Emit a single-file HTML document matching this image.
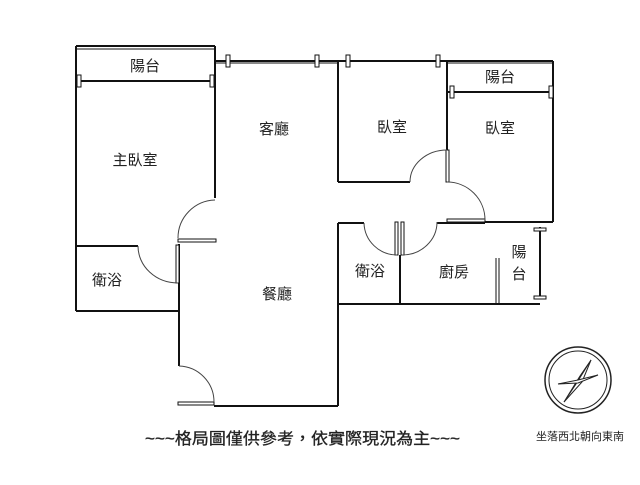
<!DOCTYPE html>
<html><head><meta charset="utf-8"><style>
html,body{margin:0;padding:0;background:#fff;}
svg text{font-family:"Liberation Sans","Noto Sans CJK TC",sans-serif;fill:#222;}
</style></head><body>
<svg width="640" height="480" viewBox="0 0 640 480" xmlns="http://www.w3.org/2000/svg">
<g stroke="#111" stroke-width="2" fill="none">
<line x1="76" y1="46" x2="215" y2="46"/>
<line x1="76" y1="49" x2="215" y2="49" stroke-width="1"/>
<line x1="76" y1="81" x2="215" y2="81"/>
<line x1="76" y1="46" x2="76" y2="311"/>
<line x1="215" y1="46" x2="215" y2="198"/>
<line x1="215" y1="61" x2="338" y2="61"/>
<line x1="215" y1="63" x2="338" y2="63" stroke-width="1"/>
<line x1="338" y1="61" x2="447" y2="61"/>
<line x1="338" y1="61" x2="338" y2="182"/>
<line x1="338" y1="182" x2="410" y2="182"/>
<line x1="447" y1="61" x2="553" y2="61"/>
<line x1="447" y1="63" x2="553" y2="63" stroke-width="1"/>
<line x1="447" y1="92" x2="553" y2="92"/>
<line x1="553" y1="61" x2="553" y2="222"/>
<line x1="447" y1="61" x2="447" y2="182"/>
<line x1="485" y1="222" x2="553" y2="222"/>
<line x1="338" y1="223" x2="364" y2="223"/>
<line x1="437" y1="223" x2="485" y2="223"/>
<line x1="338" y1="223" x2="338" y2="406"/>
<line x1="338" y1="304" x2="540" y2="304"/>
<line x1="400" y1="255" x2="400" y2="304"/>
<line x1="540" y1="227" x2="540" y2="298"/>
<line x1="496" y1="258" x2="496" y2="304" stroke-width="1"/>
<line x1="499" y1="258" x2="499" y2="304" stroke-width="1"/>
<line x1="76" y1="246" x2="138" y2="246"/>
<line x1="76" y1="311" x2="179" y2="311"/>
<line x1="179" y1="244" x2="179" y2="366"/>
<line x1="214" y1="406" x2="338" y2="406"/>
</g>
<g stroke="#111" stroke-width="1" fill="#fff">
<rect x="77" y="75" width="4" height="12"/><rect x="210" y="75" width="4" height="12"/>
<rect x="226" y="55" width="4" height="12"/><rect x="315" y="55" width="4" height="12"/>
<rect x="346" y="55" width="4" height="12"/><rect x="436" y="55" width="4" height="12"/>
<rect x="450" y="86" width="4" height="12"/><rect x="549" y="86" width="4" height="12"/>
<rect x="534" y="228" width="12" height="3"/><rect x="534" y="296" width="12" height="3"/>
<rect x="178" y="239" width="38" height="3"/>
<rect x="176" y="245" width="3" height="38"/>
<rect x="178" y="402" width="36" height="3"/>
<rect x="446" y="150" width="3" height="32"/>
<rect x="447" y="219" width="38" height="3"/>
<rect x="395" y="222" width="3" height="33"/>
<rect x="401" y="222" width="3" height="33"/>
</g>
<g stroke="#444" stroke-width="1" fill="none">
<path d="M215 200 A38 38 0 0 0 178 238"/>
<path d="M138 246 A40 37 0 0 0 178 283"/>
<path d="M179 366 A36 36 0 0 1 214 402"/>
<path d="M410 182 A37 32 0 0 1 447 150"/>
<path d="M447 182 A38 38 0 0 1 485 220"/>
<path d="M364 223 A33 33 0 0 0 397 255"/>
<path d="M437 222 A35 33 0 0 1 402 255"/>
</g>
<g font-size="15" text-anchor="middle">
<text x="145" y="71">陽台</text>
<text x="274" y="134">客廳</text>
<text x="135" y="165">主臥室</text>
<text x="392" y="132">臥室</text>
<text x="500" y="133">臥室</text>
<text x="500" y="82">陽台</text>
<text x="107" y="285">衛浴</text>
<text x="277" y="299">餐廳</text>
<text x="370" y="276">衛浴</text>
<text x="454" y="277">廚房</text>
<text x="519" y="257">陽</text>
<text x="519" y="279">台</text>
</g>
<text x="145" y="444" font-size="16" textLength="315" lengthAdjust="spacingAndGlyphs" stroke="#222" stroke-width="0.3">~~~格局圖僅供參考，依實際現況為主~~~</text>
<text x="580" y="440" font-size="11" text-anchor="middle">坐落西北朝向東南</text>
<g stroke="#222" fill="none">
<circle cx="578" cy="380" r="33" stroke-width="1.5"/>
<circle cx="578" cy="380" r="29" stroke-width="1"/>
<path d="M591 360 L580 376 L564 402 L576 384 Z" fill="#111"/>
<path d="M591 360 L582 382 L564 402" stroke-width="1"/>
<path d="M558 384 L578 380 L598 375 L578 383 Z" fill="#fff" stroke-width="1"/>
</g>
</svg>
</body></html>
